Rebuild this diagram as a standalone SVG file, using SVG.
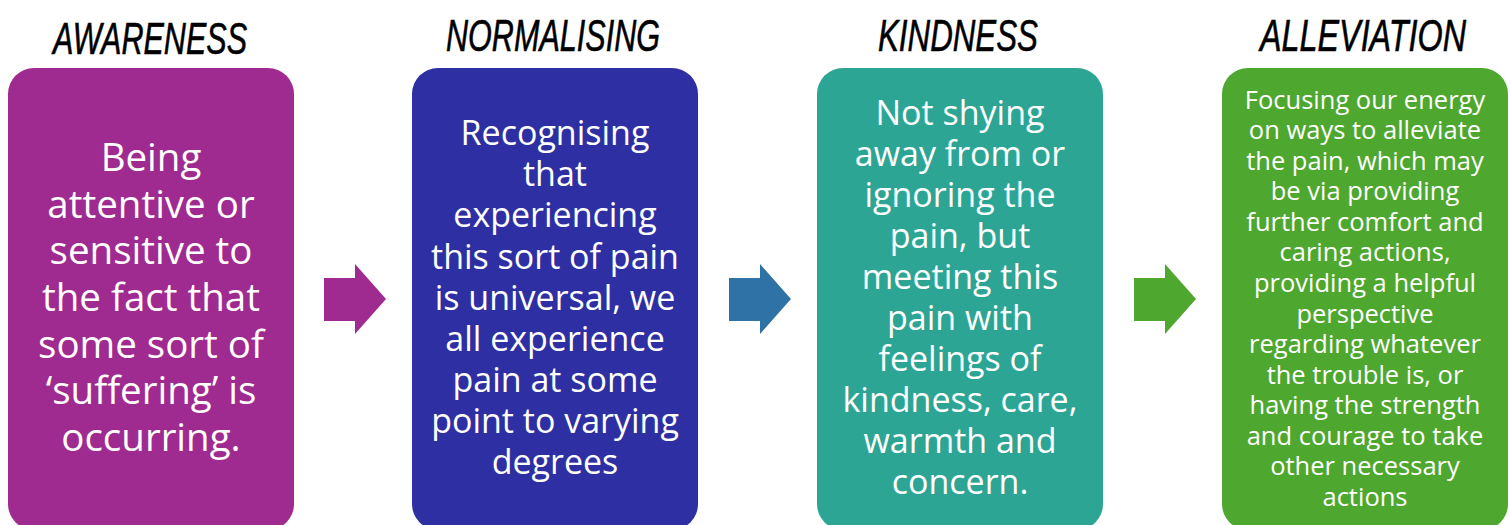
<svg xmlns="http://www.w3.org/2000/svg" width="1510" height="525" viewBox="0 0 1510 525">
  <style>
    .title { font-family: "Liberation Sans Narrow", "Liberation Sans", sans-serif; font-style: italic; font-size: 44px; fill: #000; text-anchor: middle; stroke: #000; stroke-width: 0.6px; }
    .body text { font-family: "Open Sans", "Noto Sans", sans-serif; fill: #fff; text-anchor: middle; }
    .b1 text { font-size: 38.5px; }
    .b2 text, .b3 text { font-size: 34px; }
    .b4 text { font-size: 25.5px; }
  </style>
  <defs>
    <!-- block arrow used between the stages -->
    <path id="arrow" d="M0,14 H31 V0 L62,35 L31,70 V57 H0 Z"/>
  </defs>
  <rect width="1510" height="525" fill="#fff"/>

  <g id="connectors">
    <use href="#arrow" x="324" y="264" fill="#A02B90"/>
    <use href="#arrow" x="729" y="264" fill="#2E72A6"/>
    <use href="#arrow" x="1134" y="264" fill="#4EA72E"/>
  </g>

  <g id="awareness">
    <text class="title" x="150" y="54" textLength="194" lengthAdjust="spacingAndGlyphs">AWARENESS</text>
    <rect x="8" y="68" width="286" height="462" rx="26" fill="#A02B90"/>
    <g class="body b1">
      <text x="151" y="171">Being</text>
      <text x="151" y="218">attentive or</text>
      <text x="151" y="264">sensitive to</text>
      <text x="151" y="311">the fact that</text>
      <text x="151" y="358">some sort of</text>
      <text x="151" y="404">‘suffering’ is</text>
      <text x="151" y="451">occurring.</text>
    </g>
  </g>

  <g id="normalising">
    <text class="title" x="553" y="51" textLength="214" lengthAdjust="spacingAndGlyphs">NORMALISING</text>
    <rect x="412" y="68" width="286" height="462" rx="26" fill="#2E2FA3"/>
    <g class="body b2">
      <text x="555" y="145">Recognising</text>
      <text x="555" y="186">that</text>
      <text x="555" y="227">experiencing</text>
      <text x="555" y="269">this sort of pain</text>
      <text x="555" y="310">is universal, we</text>
      <text x="555" y="351">all experience</text>
      <text x="555" y="392">pain at some</text>
      <text x="555" y="433">point to varying</text>
      <text x="555" y="474">degrees</text>
    </g>
  </g>

  <g id="kindness">
    <text class="title" x="958" y="51" textLength="160" lengthAdjust="spacingAndGlyphs">KINDNESS</text>
    <rect x="817" y="68" width="286" height="462" rx="26" fill="#2CA594"/>
    <g class="body b3">
      <text x="960" y="125">Not shying</text>
      <text x="960" y="166">away from or</text>
      <text x="960" y="207">ignoring the</text>
      <text x="960" y="248">pain, but</text>
      <text x="960" y="289">meeting this</text>
      <text x="960" y="330">pain with</text>
      <text x="960" y="371">feelings of</text>
      <text x="960" y="412">kindness, care,</text>
      <text x="960" y="453">warmth and</text>
      <text x="960" y="494">concern.</text>
    </g>
  </g>

  <g id="alleviation">
    <text class="title" x="1363" y="51" textLength="206" lengthAdjust="spacingAndGlyphs">ALLEVIATION</text>
    <rect x="1222" y="68" width="286" height="462" rx="26" fill="#4EA72E"/>
    <g class="body b4">
      <text x="1365" y="109">Focusing our energy</text>
      <text x="1365" y="139">on ways to alleviate</text>
      <text x="1365" y="170">the pain, which may</text>
      <text x="1365" y="200">be via providing</text>
      <text x="1365" y="231">further comfort and</text>
      <text x="1365" y="261">caring actions,</text>
      <text x="1365" y="292">providing a helpful</text>
      <text x="1365" y="323">perspective</text>
      <text x="1365" y="353">regarding whatever</text>
      <text x="1365" y="384">the trouble is, or</text>
      <text x="1365" y="414">having the strength</text>
      <text x="1365" y="445">and courage to take</text>
      <text x="1365" y="475">other necessary</text>
      <text x="1365" y="506">actions</text>
    </g>
  </g>
</svg>
